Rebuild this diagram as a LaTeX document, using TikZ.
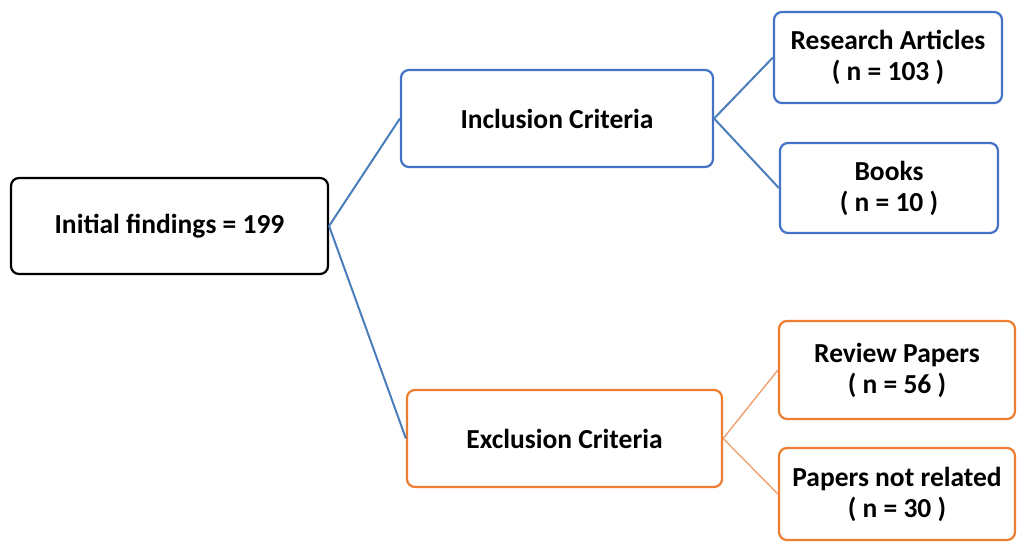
\documentclass[tikz,border=0pt]{standalone}
\usepackage{fontspec}
\setmainfont{Carlito}
\definecolor{boxblue}{HTML}{4472C4}
\definecolor{lineblue}{HTML}{4A7EBB}
\definecolor{boxorange}{HTML}{ED7D31}
\definecolor{lineorange}{HTML}{F0A070}
\begin{document}
\begin{tikzpicture}[x=1pt,y=-1pt,
  box/.style={draw, line width=2.2pt, rounded corners=8pt, fill=white, inner sep=0pt, align=center,
    font=\fontsize{27.5}{31}\selectfont\bfseries},
  bluebox/.style={box, draw=boxblue},
  orangebox/.style={box, draw=boxorange},
  blueline/.style={draw=lineblue, line width=2pt},
  orangeline/.style={draw=lineorange, line width=1.4pt}]
\useasboundingbox (0,0) rectangle (1025,553);
\node[box, draw=black, minimum width=317pt, minimum height=96pt] (init) at (169.5,226) {Initial findings = 199};
\node[bluebox, minimum width=312pt, minimum height=97pt] (inc) at (557,118.5) {Inclusion Criteria};
\node[orangebox, minimum width=315pt, minimum height=97pt] (exc) at (564.5,438.5) {Exclusion Criteria};
\node[bluebox, minimum width=228pt, minimum height=91pt] (ra) at (888,57.5) {Research Articles\\( n = 103 )};
\node[bluebox, minimum width=218pt, minimum height=90pt] (bk) at (889,188) {Books\\( n = 10 )};
\node[orangebox, minimum width=236pt, minimum height=98pt] (rp) at (897,370) {Review Papers\\( n = 56 )};
\node[orangebox, minimum width=236pt, minimum height=92pt] (pn) at (897,494) {Papers not related\\( n = 30 )};
\draw[blueline] (init.east) -- (inc.west);
\draw[blueline] (init.east) -- (exc.west);
\draw[blueline] (inc.east) -- (ra.west);
\draw[blueline] (inc.east) -- (bk.west);
\draw[orangeline] (exc.east) -- (rp.west);
\draw[orangeline] (exc.east) -- (pn.west);
\end{tikzpicture}
\end{document}
